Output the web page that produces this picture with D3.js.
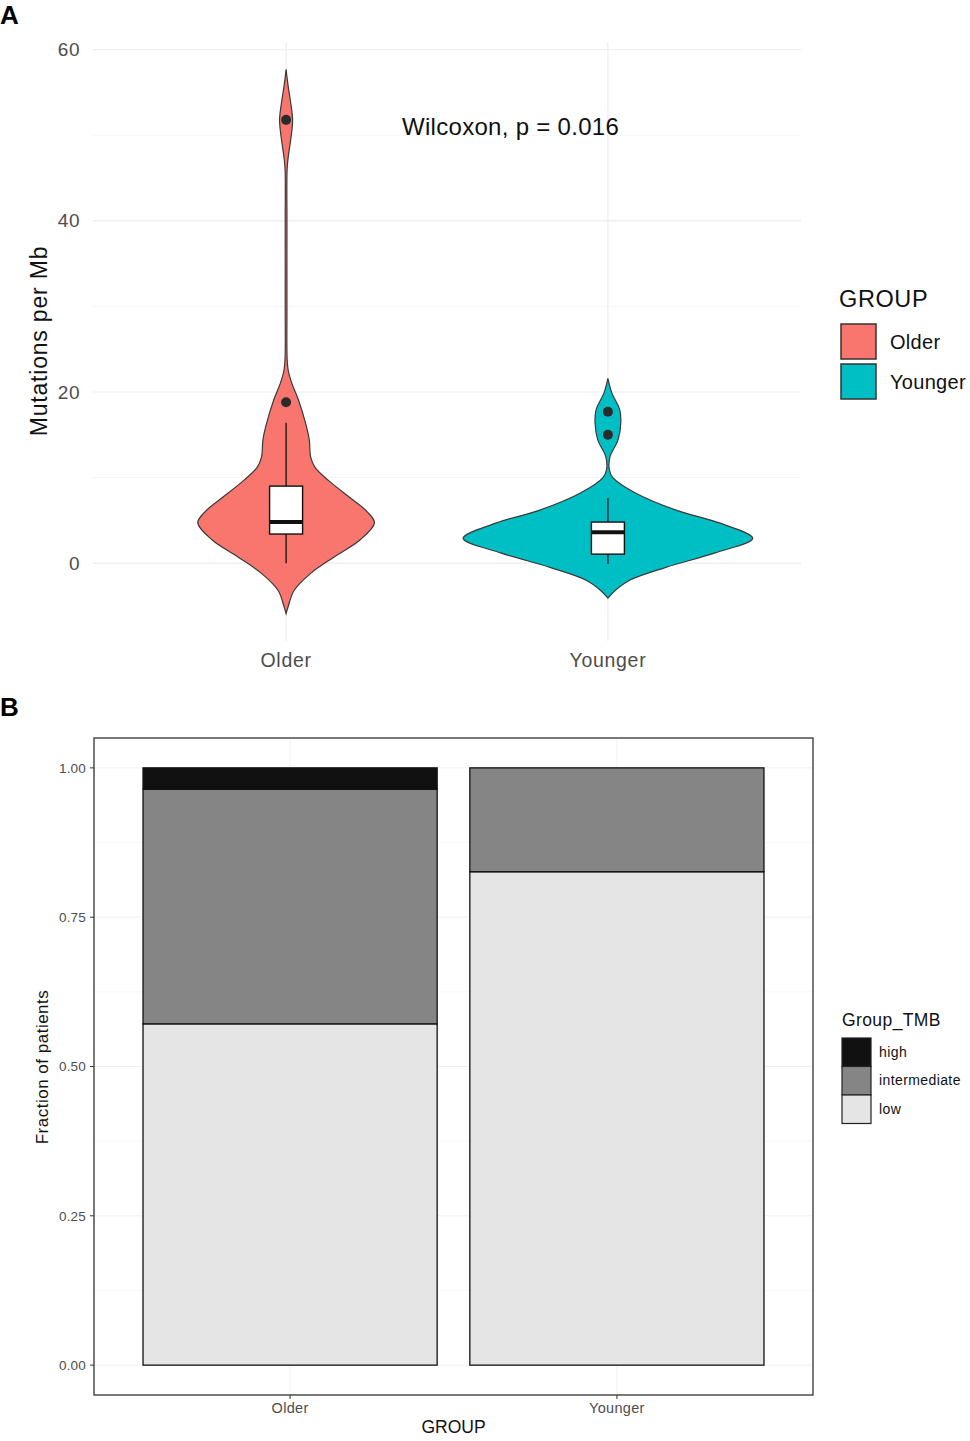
<!DOCTYPE html>
<html>
<head>
<meta charset="utf-8">
<script src="https://cdn.jsdelivr.net/npm/d3@7"></script>
<style>
  body { margin: 0; background: #fff; }
  svg { display: block; font-family: "Liberation Sans", Arial, sans-serif; }
</style>
</head>
<body>
<svg id="svg" width="970" height="1441"></svg>
<script>
// ── Panel A data ──
const groups = ['Older', 'Younger'];
const groupColors = ['#f8766d', '#00bfc4'];

// violin outlines: [value, relative half-width]
const olderDensity = [
  [-5.9, 0], [-5.1, 0.014], [-3.2, 0.055], [-1.2, 0.17], [0.7, 0.33], [2.7, 0.51],
  [4.7, 0.61], [6, 0.56], [7.4, 0.46], [9.7, 0.29], [11.2, 0.2], [12.4, 0.17],
  [14.4, 0.16], [16, 0.14], [19.1, 0.085], [21, 0.04], [22.6, 0.014], [24, 0.007],
  [30, 0.006], [40, 0.006], [46, 0.007], [47.5, 0.015], [49.5, 0.032], [51.8, 0.045],
  [54, 0.03], [56, 0.012], [57.7, 0]
];
const youngerDensity = [
  [-4.1, 0], [-3.2, 0.05], [-2, 0.15], [-0.5, 0.4], [1.2, 0.74], [2.9, 1.0],
  [4.7, 0.77], [6.2, 0.47], [8.2, 0.19], [10, 0.034], [10.9, 0.01], [12.4, 0.014],
  [14.4, 0.07], [16.4, 0.089], [17.9, 0.082], [19.9, 0.027], [21.6, 0]
];
const densities = [olderDensity, youngerDensity];

// box stats: [lower whisker, q1, median, q3, upper whisker]
const boxStats = [
  [0, 3.4, 4.8, 9.0, 16.4],
  [-0.1, 1.05, 3.6, 4.8, 7.6]
];
const outliers = [[18.8, 51.8], [15.0, 17.7]];
const yTicksA = [0, 20, 40, 60];
const yMinorA = [10, 30, 50];
const pLabel = 'Wilcoxon, p = 0.016';

// ── Panel B data ──
const tmbLevels = ['high', 'intermediate', 'low'];
const tmbColors = { high: '#111111', intermediate: '#858585', low: '#e5e5e5' };
const fracLow = [16 / 28, 19 / 23];
const fracIntermediate = [11 / 28, 4 / 23];
const fracHigh = [1 / 28, 0];
const yTicksB = [0, 0.25, 0.5, 0.75, 1];

const svg = d3.select('#svg');

// ───────────── Panel A ─────────────
{
  const left = 93, right = 801, top = 42, bottom = 641;
  // discrete axis: 0.6 unit expansion each side
  const step = (right - left) / 2.2;
  const cx = g => left + step * (0.6 + groups.indexOf(g));
  const y = d3.scaleLinear().domain([-9.1, 60.9]).range([bottom, top]);
  const w = d3.scaleLinear().domain([0, 1]).range([0, 0.45 * step]);

  const g = svg.append('g');

  // grid
  g.selectAll('.minor').data(yMinorA).join('line')
    .attr('x1', left).attr('x2', right)
    .attr('y1', d => y(d)).attr('y2', d => y(d))
    .attr('stroke', '#f2f2f2').attr('stroke-width', 0.8);
  g.selectAll('.major').data(yTicksA).join('line')
    .attr('x1', left).attr('x2', right)
    .attr('y1', d => y(d)).attr('y2', d => y(d))
    .attr('stroke', '#ebebeb').attr('stroke-width', 1.1);
  g.selectAll('.vgrid').data(groups).join('line')
    .attr('x1', d => cx(d)).attr('x2', d => cx(d))
    .attr('y1', top).attr('y2', bottom)
    .attr('stroke', '#ebebeb').attr('stroke-width', 1.1);

  // violins
  densities.forEach((dens, i) => {
    const c = cx(groups[i]);
    const area = d3.area()
      .curve(d3.curveCatmullRom)
      .y(d => y(d[0]))
      .x0(d => c - w(d[1]))
      .x1(d => c + w(d[1]));
    g.append('path')
      .attr('d', area(dens))
      .attr('fill', groupColors[i])
      .attr('stroke', '#3a3a3a')
      .attr('stroke-width', 1.2);
  });

  // boxplots
  const boxW = 33;
  boxStats.forEach((s, i) => {
    const c = cx(groups[i]);
    g.append('line').attr('x1', c).attr('x2', c).attr('y1', y(s[0])).attr('y2', y(s[1]))
      .attr('stroke', '#111').attr('stroke-width', 1.3);
    g.append('line').attr('x1', c).attr('x2', c).attr('y1', y(s[3])).attr('y2', y(s[4]))
      .attr('stroke', '#111').attr('stroke-width', 1.3);
    g.append('rect')
      .attr('x', c - boxW / 2).attr('width', boxW)
      .attr('y', y(s[3])).attr('height', y(s[1]) - y(s[3]))
      .attr('fill', '#fff').attr('stroke', '#111').attr('stroke-width', 1.4);
    g.append('line').attr('x1', c - boxW / 2).attr('x2', c + boxW / 2)
      .attr('y1', y(s[2])).attr('y2', y(s[2]))
      .attr('stroke', '#111').attr('stroke-width', 4);
    g.selectAll(null).data(outliers[i]).join('circle')
      .attr('cx', c).attr('cy', d => y(d)).attr('r', 5)
      .attr('fill', '#2b2b2b');
  });

  // axes labels
  g.selectAll('.ytick').data(yTicksA).join('text')
    .attr('x', 80).attr('y', d => y(d)).attr('dy', '0.35em')
    .attr('text-anchor', 'end').attr('font-size', 19).attr('fill', '#4d4d4d')
    .attr('letter-spacing', 0.5)
    .text(d => d);
  g.selectAll('.xtick').data(groups).join('text')
    .attr('x', d => cx(d)).attr('y', 667)
    .attr('text-anchor', 'middle').attr('font-size', 19.5).attr('fill', '#4d4d4d')
    .attr('letter-spacing', 0.7)
    .text(d => d);
  g.append('text')
    .attr('transform', `translate(47,${341}) rotate(-90)`)
    .attr('text-anchor', 'middle').attr('font-size', 23).attr('fill', '#111')
    .attr('letter-spacing', 0.8)
    .text('Mutations per Mb');

  g.append('text')
    .attr('x', 402).attr('y', y(51)).attr('dy', '0.35em')
    .attr('font-size', 24).attr('fill', '#111').attr('letter-spacing', 0.3)
    .text(pLabel);

  // legend
  g.append('text').attr('x', 839).attr('y', 307).attr('font-size', 23.5)
    .attr('letter-spacing', 0.6).attr('fill', '#111').text('GROUP');
  groups.forEach((d, i) => {
    g.append('rect')
      .attr('x', 841).attr('y', 324 + i * 40).attr('width', 35).attr('height', 35)
      .attr('fill', groupColors[i]).attr('stroke', '#333').attr('stroke-width', 1.5);
    g.append('text')
      .attr('x', 890).attr('y', 342 + i * 40).attr('dy', '0.35em')
      .attr('font-size', 20).attr('letter-spacing', 0.3).attr('fill', '#111').text(d);
  });

  svg.append('text').attr('x', 0).attr('y', 24).attr('font-size', 26)
    .attr('font-weight', 'bold').text('A');
}

// ───────────── Panel B ─────────────
{
  const left = 94, right = 813, top = 738, bottom = 1395;
  const step = (right - left) / 2.2;
  const cx = g => left + step * (0.6 + groups.indexOf(g));
  const barW = 0.9 * step;
  const y = d3.scaleLinear().domain([-0.05, 1.05]).range([bottom, top]);

  const g = svg.append('g');

  const minor = [0.125, 0.375, 0.625, 0.875];
  g.selectAll('.minor').data(minor).join('line')
    .attr('x1', left).attr('x2', right)
    .attr('y1', d => y(d)).attr('y2', d => y(d))
    .attr('stroke', '#f5f5f5').attr('stroke-width', 0.7);
  g.selectAll('.major').data(yTicksB).join('line')
    .attr('x1', left).attr('x2', right)
    .attr('y1', d => y(d)).attr('y2', d => y(d))
    .attr('stroke', '#efefef').attr('stroke-width', 0.9);
  g.selectAll('.vgrid').data(groups).join('line')
    .attr('x1', d => cx(d)).attr('x2', d => cx(d))
    .attr('y1', top).attr('y2', bottom)
    .attr('stroke', '#efefef').attr('stroke-width', 0.9);

  // stacked bars: low at bottom, then intermediate, then high
  const stackData = groups.map((d, i) => ({
    group: d, low: fracLow[i], intermediate: fracIntermediate[i], high: fracHigh[i]
  }));
  const series = d3.stack().keys(['low', 'intermediate', 'high'])(stackData);
  series.forEach(s => {
    g.selectAll(null).data(s.filter(d => d[1] - d[0] > 0)).join('rect')
      .attr('x', d => cx(d.data.group) - barW / 2).attr('width', barW)
      .attr('y', d => y(d[1])).attr('height', d => y(d[0]) - y(d[1]))
      .attr('fill', tmbColors[s.key]).attr('stroke', '#111').attr('stroke-width', 1.3);
  });

  // panel border
  g.append('rect').attr('x', left).attr('y', top).attr('width', right - left).attr('height', bottom - top)
    .attr('fill', 'none').attr('stroke', '#333').attr('stroke-width', 1.3);

  // ticks
  g.selectAll('.yt').data(yTicksB).join('line')
    .attr('x1', left - 4).attr('x2', left).attr('y1', d => y(d)).attr('y2', d => y(d))
    .attr('stroke', '#333').attr('stroke-width', 1);
  g.selectAll('.ytl').data(yTicksB).join('text')
    .attr('x', left - 8).attr('y', d => y(d)).attr('dy', '0.35em')
    .attr('text-anchor', 'end').attr('font-size', 13.5).attr('fill', '#4d4d4d')
    .attr('letter-spacing', 0.2)
    .text(d => d3.format('.2f')(d));
  g.selectAll('.xt').data(groups).join('line')
    .attr('x1', d => cx(d)).attr('x2', d => cx(d)).attr('y1', bottom).attr('y2', bottom + 4)
    .attr('stroke', '#333').attr('stroke-width', 1);
  g.selectAll('.xtl').data(groups).join('text')
    .attr('x', d => cx(d)).attr('y', 1413)
    .attr('text-anchor', 'middle').attr('font-size', 14.5).attr('fill', '#4d4d4d')
    .attr('letter-spacing', 0.3)
    .text(d => d);
  g.append('text').attr('x', (left + right) / 2).attr('y', 1433)
    .attr('text-anchor', 'middle').attr('font-size', 17.5).attr('fill', '#111').text('GROUP');
  g.append('text')
    .attr('transform', `translate(48,${1067}) rotate(-90)`)
    .attr('text-anchor', 'middle').attr('font-size', 17).attr('fill', '#111')
    .attr('letter-spacing', 0.5)
    .text('Fraction of patients');

  // legend
  g.append('text').attr('x', 842).attr('y', 1026).attr('font-size', 17.5)
    .attr('letter-spacing', 0.4).attr('fill', '#111').text('Group_TMB');
  tmbLevels.forEach((d, i) => {
    g.append('rect')
      .attr('x', 842).attr('y', 1038 + i * 28.5).attr('width', 29).attr('height', 28.5)
      .attr('fill', tmbColors[d]).attr('stroke', '#222').attr('stroke-width', 1.2);
    g.append('text')
      .attr('x', 879).attr('y', 1052 + i * 28.5).attr('dy', '0.35em')
      .attr('font-size', 14).attr('letter-spacing', 0.4).attr('fill', '#111').text(d);
  });

  svg.append('text').attr('x', 0).attr('y', 716).attr('font-size', 26)
    .attr('font-weight', 'bold').text('B');
}
</script>
</body>
</html>
